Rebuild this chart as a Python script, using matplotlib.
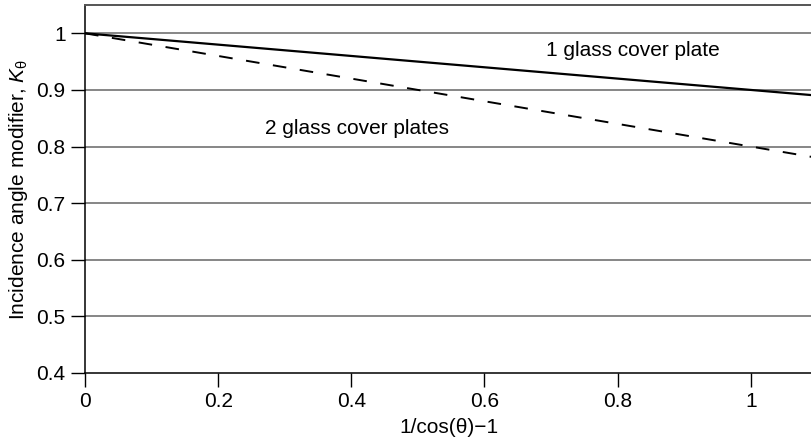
#!/usr/bin/env python

import numpy as np
import matplotlib
matplotlib.use("Agg")
import matplotlib.pyplot as plt

plt.rcParams['font.family'] = ['Liberation Sans', 'DejaVu Sans']
plt.rcParams['mathtext.fontset'] = 'custom'
plt.rcParams['mathtext.rm'] = 'Liberation Sans'
plt.rcParams['mathtext.it'] = 'Liberation Sans:italic'

# incidence angle modifier vs 1/cos(theta) - 1
x = [0.0, 1.1]
k_one_plate = [1.0, 0.89]
k_two_plates = [1.0, 0.78]

xticks = [0, 0.2, 0.4, 0.6, 0.8, 1]
xticklabels = ["0", "0.2", "0.4", "0.6", "0.8", "1"]
yticks = [0.4, 0.5, 0.6, 0.7, 0.8, 0.9, 1.0]
yticklabels = ["0.4", "0.5", "0.6", "0.7", "0.8", "0.9", "1"]

fs = 15

fig = plt.figure(figsize=(8.12, 4.47), dpi=100)
ax = fig.add_axes([0.1047, 0.1656, 0.8953, 0.8232])

# horizontal grid lines
for yv in yticks[1:]:
    ax.axhline(yv, color="#666666", lw=1.1, zorder=1)

ax.plot(x, k_one_plate, color="black", lw=1.6, zorder=3)
ax.plot(x, k_two_plates, color="black", lw=1.4, ls=(0, (7, 7)), zorder=3)

ax.text(0.693, 0.97, "1 glass cover plate", fontsize=fs, va="center", ha="left")
ax.text(0.271, 0.831, "2 glass cover plates", fontsize=fs, va="center", ha="left")

ax.set_xlim(0, 1.092)
ax.set_ylim(0.4, 1.05)
ax.set_xticks(xticks)
ax.set_xticklabels(xticklabels)
ax.set_yticks(yticks)
ax.set_yticklabels(yticklabels)
ax.tick_params(direction="out", length=10, width=1, labelsize=fs, pad=4)

ax.spines["right"].set_visible(False)
ax.spines["top"].set_color("#555555")
ax.spines["top"].set_linewidth(1.4)
ax.spines["left"].set_linewidth(1.1)
ax.spines["bottom"].set_linewidth(1.1)

ax.set_xlabel("1/cos(θ)\u22121", fontsize=fs, labelpad=5)
ax.set_ylabel("Incidence angle modifier, $K_{\\mathrm{θ}}$", fontsize=fs, labelpad=5)

fig.savefig("out.png", dpi=100)
